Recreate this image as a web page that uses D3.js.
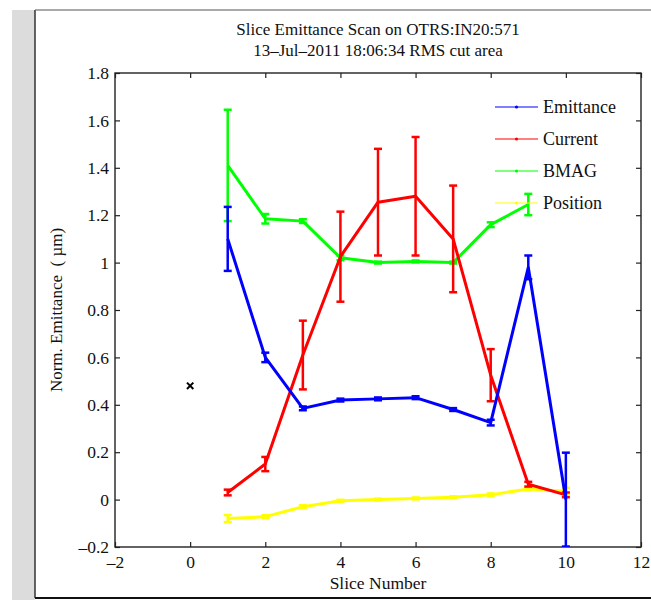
<!DOCTYPE html>
<html><head><meta charset="utf-8">
<script src="https://cdn.jsdelivr.net/npm/d3@7"></script>
<style>body{margin:0;background:#fff}svg{display:block}</style>
</head><body>
<script>
const slices = [1,2,3,4,5,6,7,8,9,10];
const emittance = [1.10,0.60,0.385,0.42,0.425,0.43,0.38,0.325,0.98,0.0];
const emittanceErr = [0.135,0.02,0.008,0.006,0.006,0.006,0.006,0.012,0.05,0.198];
const current = [0.03,0.15,0.61,1.025,1.255,1.28,1.10,0.525,0.065,0.02];
const currentErr = [0.012,0.03,0.145,0.19,0.225,0.25,0.225,0.11,0.01,0.01];
const bmagSlices = [1,2,3,4,5,6,7,8,9];
const bmag = [1.41,1.185,1.175,1.02,1.0,1.005,1.0,1.16,1.245];
const bmagErr = [0.235,0.02,0.008,0.01,0.004,0.004,0.004,0.01,0.045];
const position = [-0.08,-0.072,-0.03,-0.005,0.0,0.005,0.01,0.02,0.045,0.035];
const positionErr = [0.015,0.006,0.006,0.004,0.004,0.004,0.004,0.006,0.006,0.015];
const marker = {x:0, y:0.48};
const xTicks = [-2,0,2,4,6,8,10,12];
const yTicks = [-0.2,0,0.2,0.4,0.6,0.8,1,1.2,1.4,1.6,1.8];
const titleLines = ["Slice Emittance Scan on OTRS:IN20:571","13\u2013Jul\u20132011 18:06:34 RMS cut area"];
const xLabel = "Slice Number";
const yLabel = "Norm. Emittance \u00a0( \u00b5m)";
const seriesNames = ["Emittance","Current","BMAG","Position"];
const seriesColors = ["#0000ff","#ff0000","#00ff00","#ffff00"];

const W=651,H=600;
const L=115,R=641,T=73,B=547;
const svg=d3.select("body").append("svg").attr("width",W).attr("height",H);
const font="'Liberation Serif','Times New Roman',serif";

svg.append("rect").attr("x",12).attr("y",10).attr("width",23).attr("height",H-10).attr("fill","#dcdcdc");
svg.append("line").attr("x1",35).attr("x2",35).attr("y1",10).attr("y2",598).attr("stroke","#333").attr("stroke-width",1.5);
svg.append("line").attr("x1",35).attr("x2",W).attr("y1",10).attr("y2",10).attr("stroke","#555").attr("stroke-width",1.2);
svg.append("line").attr("x1",35).attr("x2",W).attr("y1",598).attr("y2",598).attr("stroke","#111").attr("stroke-width",2);

const x=d3.scaleLinear().domain([-2,12]).range([L,R]);
const y=d3.scaleLinear().domain([-0.2,1.8]).range([B,T]);

const g=svg.append("g");
g.append("defs").append("clipPath").attr("id","clip").append("rect").attr("x",L).attr("y",T).attr("width",R-L).attr("height",B-T);

const xa=g.append("g").attr("transform",`translate(0,${B})`).call(d3.axisBottom(x).tickValues(xTicks).tickSizeInner(-5).tickSizeOuter(0).tickPadding(9).tickFormat(d=>String(d).replace("-","\u2013")));
const xt=g.append("g").attr("transform",`translate(0,${T})`).call(d3.axisTop(x).tickValues(xTicks).tickSizeInner(-5).tickSizeOuter(0).tickFormat(""));
const ya=g.append("g").attr("transform",`translate(${L},0)`).call(d3.axisLeft(y).tickValues(yTicks).tickSizeInner(-5).tickSizeOuter(0).tickPadding(6).tickFormat(d=>{const v=Math.round(d*10)/10; if(v===0)return "0"; if(v===1)return "1"; return String(v).replace("-","\u2013");}));
const yr=g.append("g").attr("transform",`translate(${R},0)`).call(d3.axisRight(y).tickValues(yTicks).tickSizeInner(-5).tickSizeOuter(0).tickFormat(""));
[xa,xt,ya,yr].forEach(a=>{a.attr("font-family",null);a.select(".domain").remove();a.selectAll("line").attr("stroke","#222").attr("stroke-width",1.2);a.selectAll("text").style("font-family",font).attr("font-size",17.5).attr("fill","#111");});
g.append("rect").attr("x",L).attr("y",T).attr("width",R-L).attr("height",B-T).attr("fill","none").attr("stroke","#222").attr("stroke-width",1.4);

const plot=g.append("g").attr("clip-path","url(#clip)");
function drawSeries(xs,vals,errs,color){
  const data=xs.map((s,i)=>({s,v:vals[i],e:errs[i]}));
  plot.append("path").datum(data).attr("fill","none").attr("stroke",color).attr("stroke-width",3).attr("stroke-linejoin","round")
    .attr("d",d3.line().x(d=>x(d.s)).y(d=>y(d.v)));
  const eb=plot.append("g").attr("stroke",color).attr("stroke-width",2.5);
  data.forEach(d=>{
    eb.append("line").attr("x1",x(d.s)).attr("x2",x(d.s)).attr("y1",y(d.v-d.e)).attr("y2",y(d.v+d.e));
    [d.v-d.e,d.v+d.e].forEach(v=>eb.append("line").attr("x1",x(d.s)-4).attr("x2",x(d.s)+4).attr("y1",y(v)).attr("y2",y(v)));
  });
}
drawSeries(slices,position,positionErr,seriesColors[3]);
drawSeries(bmagSlices,bmag,bmagErr,seriesColors[2]);
drawSeries(slices,current,currentErr,seriesColors[1]);
drawSeries(slices,emittance,emittanceErr,seriesColors[0]);

plot.append("path").attr("d",d3.symbol(d3.symbolX,28)()).attr("transform",`translate(${x(marker.x)},${y(marker.y)})`).attr("stroke","#000").attr("stroke-width",2).attr("fill","none");

const lg=g.append("g");
seriesNames.forEach((n,i)=>{
  const yy=107+i*32;
  lg.append("line").attr("x1",495).attr("x2",538).attr("y1",yy).attr("y2",yy).attr("stroke",seriesColors[i]).attr("stroke-width",1.2);
  lg.append("circle").attr("cx",516.5).attr("cy",yy).attr("r",1.6).attr("fill",seriesColors[i]);
  lg.append("text").attr("x",543).attr("y",yy+6).text(n).style("font-family",font).attr("font-size",18).attr("fill","#111");
});

titleLines.forEach((t,i)=>svg.append("text").attr("x",(L+R)/2).attr("y",35+i*21).attr("text-anchor","middle").style("font-family",font).attr("font-size",17).attr("fill","#111").text(t));
svg.append("text").attr("x",(L+R)/2).attr("y",589).attr("text-anchor","middle").style("font-family",font).attr("font-size",17.5).attr("fill","#111").text(xLabel);
svg.append("text").attr("transform",`translate(62,${(T+B)/2}) rotate(-90)`).attr("text-anchor","middle").style("font-family",font).attr("font-size",17).attr("fill","#111").text(yLabel);
</script>
</body></html>
